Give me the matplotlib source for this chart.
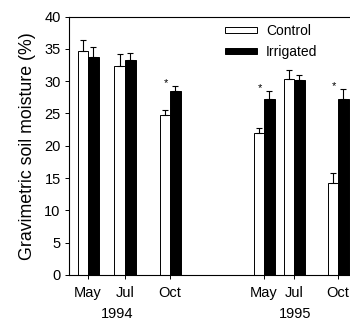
import matplotlib
matplotlib.use('Agg')
import matplotlib.pyplot as plt
from matplotlib.patches import Patch

plt.rcParams['font.family'] = ['Liberation Sans', 'DejaVu Sans']

# data
months = ['May', 'Jul', 'Oct', 'May', 'Jul', 'Oct']
years = ['1994', '1995']
control = [34.6, 32.4, 24.7, 22.0, 30.4, 14.2]
control_err = [1.7, 1.8, 0.8, 0.8, 1.3, 1.6]
irrigated = [33.8, 33.3, 28.5, 27.3, 30.1, 27.3]
irrigated_err = [1.5, 1.1, 0.7, 1.1, 0.9, 1.5]
significant = [False, False, True, True, False, True]

# sampling dates along the axis (axis units)
date_pos = [1.9, 5.6, 10.1, 19.5, 22.5, 26.9]
year_pos = [4.8, 22.6]

fig = plt.figure(figsize=(3.5, 3.21), dpi=100)
ax = fig.add_axes([69 / 350, 46 / 321, 300 / 350, 258.5 / 321])

w = 1.05
xc = [p - w / 2 for p in date_pos]
xi = [p + w / 2 for p in date_pos]
ax.bar(xc, control, width=w, color='white', edgecolor='black', linewidth=0.7,
       yerr=[[0] * len(control), control_err],
       error_kw=dict(ecolor='black', elinewidth=0.8, capsize=2.5, capthick=0.8))
ax.bar(xi, irrigated, width=w, color='black', edgecolor='black', linewidth=0.7,
       yerr=[[0] * len(irrigated), irrigated_err],
       error_kw=dict(ecolor='black', elinewidth=0.8, capsize=2.5, capthick=0.8))

for p, v, e, s in zip(date_pos, irrigated, irrigated_err, significant):
    if s:
        ax.text(p - 0.4, v + e + 0.5, '*', ha='center', va='center', fontsize=8)

ax.set_xlim(0, 30)
ax.set_ylim(0, 40)
ax.set_yticks(range(0, 41, 5))
ax.set_xticks(date_pos)
ax.set_xticklabels(months)
ax.tick_params(axis='both', direction='out', length=3, width=0.7, labelsize=10.5, pad=3)
ax.tick_params(axis='x', pad=5)
for sp in ax.spines.values():
    sp.set_linewidth(0.8)

for yp, yr in zip(year_pos, years):
    ax.text(yp, -6.1, yr, ha='center', va='center', fontsize=10.5)

ax.set_ylabel('Gravimetric soil moisture (%)', fontsize=12.8, labelpad=6)

handles = [Patch(facecolor='white', edgecolor='black', linewidth=0.7),
           Patch(facecolor='black', edgecolor='black', linewidth=0.7)]
fig.legend(handles, ['Control', 'Irrigated'], loc='upper left',
           bbox_to_anchor=(225 / 350, 1 - 24 / 321), frameon=False, fontsize=10,
           handlelength=2.3, handleheight=0.3, handletextpad=0.65,
           labelspacing=0.5, borderpad=0, borderaxespad=0)

fig.savefig('out.png', dpi=100)
